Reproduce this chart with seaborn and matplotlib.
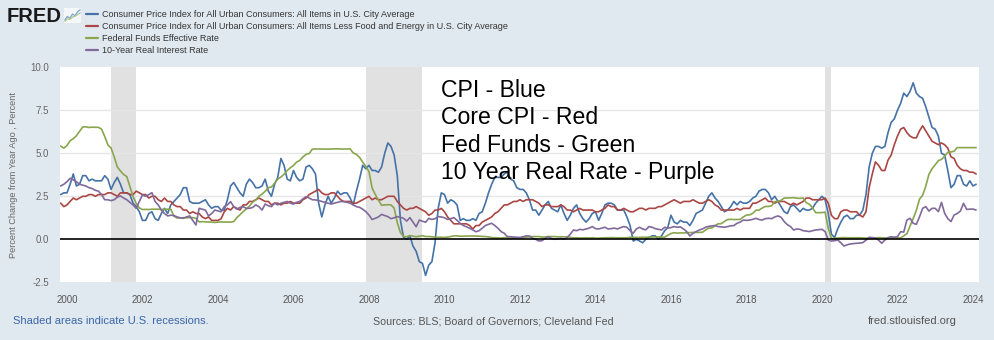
import numpy as np
import pandas as pd
import matplotlib
matplotlib.use("Agg")
import matplotlib.pyplot as plt
import seaborn as sns
from matplotlib import font_manager as fm
from matplotlib.lines import Line2D

# ---------------- data (monthly, Nov 1999 .. Feb 2024) ----------------
start_month = "1999-11-01"

cpi = [2.6, 2.7,
       2.7, 3.2, 3.8, 3.1, 3.2, 3.7, 3.7, 3.4, 3.5, 3.4, 3.4, 3.4,
       3.7, 3.5, 2.9, 3.3, 3.6, 3.2, 2.7, 2.7, 2.6, 2.1, 1.9, 1.6,
       1.1, 1.1, 1.5, 1.6, 1.2, 1.1, 1.5, 1.8, 1.5, 2.0, 2.2, 2.4,
       2.6, 3.0, 3.0, 2.2, 2.1, 2.1, 2.1, 2.2, 2.3, 2.0, 1.8, 1.9,
       1.9, 1.7, 1.7, 2.3, 3.1, 3.3, 3.0, 2.7, 2.5, 3.2, 3.5, 3.3,
       3.0, 3.0, 3.1, 3.5, 2.8, 2.5, 3.2, 3.6, 4.7, 4.3, 3.5, 3.4,
       4.0, 3.6, 3.4, 3.5, 4.2, 4.3, 4.1, 3.8, 2.1, 1.3, 2.0, 2.5,
       2.1, 2.4, 2.8, 2.6, 2.7, 2.7, 2.4, 2.0, 2.8, 3.5, 4.3, 4.1,
       4.3, 4.0, 4.0, 3.9, 4.2, 5.0, 5.6, 5.4, 4.9, 3.7, 1.1, 0.1,
       0.0, 0.2, -0.4, -0.7, -1.3, -1.4, -2.1, -1.5, -1.3, -0.2, 1.8, 2.7,
       2.6, 2.1, 2.3, 2.2, 2.0, 1.1, 1.2, 1.1, 1.1, 1.2, 1.1, 1.5,
       1.6, 2.1, 2.7, 3.2, 3.6, 3.6, 3.6, 3.8, 3.9, 3.5, 3.4, 3.0,
       2.9, 2.9, 2.7, 2.3, 1.7, 1.7, 1.4, 1.7, 2.0, 2.2, 1.8, 1.7,
       1.6, 2.0, 1.5, 1.1, 1.4, 1.8, 2.0, 1.5, 1.2, 1.0, 1.2, 1.5,
       1.6, 1.1, 1.5, 2.0, 2.1, 2.1, 2.0, 1.7, 1.7, 1.7, 1.3, 0.8,
       -0.1, 0.0, -0.1, -0.2, 0.0, 0.1, 0.2, 0.2, 0.0, 0.2, 0.5, 0.7,
       1.4, 1.0, 0.9, 1.1, 1.0, 1.0, 0.8, 1.1, 1.5, 1.6, 1.7, 2.1,
       2.5, 2.7, 2.4, 2.2, 1.9, 1.6, 1.7, 1.9, 2.2, 2.0, 2.2, 2.1,
       2.1, 2.2, 2.4, 2.5, 2.8, 2.9, 2.9, 2.7, 2.3, 2.5, 2.2, 1.9,
       1.6, 1.5, 1.9, 2.0, 1.8, 1.6, 1.8, 1.7, 1.7, 1.8, 2.1, 2.3,
       2.5, 2.3, 1.5, 0.3, 0.1, 0.6, 1.0, 1.3, 1.4, 1.2, 1.2, 1.4,
       1.4, 1.7, 2.6, 4.2, 5.0, 5.4, 5.4, 5.3, 5.4, 6.2, 6.8, 7.0,
       7.5, 7.9, 8.5, 8.3, 8.6, 9.1, 8.5, 8.3, 8.2, 7.7, 7.1, 6.5,
       6.4, 6.0, 5.0, 4.9, 4.0, 3.0, 3.2, 3.7, 3.7, 3.2, 3.1, 3.4,
       3.1, 3.2]

core_cpi = [2.1, 1.9,
            2.0, 2.2, 2.4, 2.3, 2.4, 2.5, 2.5, 2.6, 2.6, 2.5, 2.6, 2.6,
            2.6, 2.7, 2.7, 2.6, 2.5, 2.7, 2.7, 2.7, 2.6, 2.6, 2.8, 2.7,
            2.6, 2.6, 2.4, 2.5, 2.5, 2.3, 2.2, 2.4, 2.2, 2.2, 2.0, 1.9,
            1.9, 1.7, 1.7, 1.5, 1.6, 1.5, 1.5, 1.3, 1.2, 1.3, 1.1, 1.1,
            1.1, 1.2, 1.6, 1.8, 1.7, 1.9, 1.8, 1.7, 2.0, 2.0, 2.2, 2.2,
            2.3, 2.4, 2.3, 2.2, 2.2, 2.0, 2.1, 2.1, 2.0, 2.1, 2.1, 2.2,
            2.1, 2.1, 2.1, 2.3, 2.4, 2.6, 2.7, 2.8, 2.9, 2.7, 2.6, 2.6,
            2.7, 2.7, 2.5, 2.3, 2.2, 2.2, 2.2, 2.1, 2.1, 2.2, 2.3, 2.4,
            2.5, 2.3, 2.4, 2.3, 2.3, 2.4, 2.5, 2.5, 2.5, 2.2, 2.0, 1.8,
            1.7, 1.8, 1.8, 1.9, 1.8, 1.7, 1.6, 1.4, 1.5, 1.7, 1.7, 1.8,
            1.6, 1.3, 1.1, 0.9, 0.9, 0.9, 0.9, 0.9, 0.8, 0.6, 0.8, 0.8,
            1.0, 1.1, 1.2, 1.3, 1.5, 1.6, 1.8, 2.0, 2.0, 2.1, 2.2, 2.2,
            2.3, 2.2, 2.3, 2.3, 2.3, 2.2, 2.1, 1.9, 2.0, 2.0, 1.9, 1.9,
            1.9, 2.0, 1.9, 1.7, 1.7, 1.6, 1.7, 1.8, 1.7, 1.7, 1.7, 1.7,
            1.6, 1.6, 1.7, 1.8, 2.0, 1.9, 1.9, 1.7, 1.7, 1.8, 1.7, 1.6,
            1.6, 1.7, 1.8, 1.8, 1.7, 1.8, 1.8, 1.8, 1.9, 1.9, 2.0, 2.1,
            2.2, 2.3, 2.2, 2.1, 2.2, 2.2, 2.2, 2.3, 2.2, 2.1, 2.1, 2.2,
            2.3, 2.2, 2.0, 1.9, 1.7, 1.7, 1.7, 1.7, 1.7, 1.8, 1.7, 1.8,
            1.8, 1.8, 2.1, 2.1, 2.2, 2.3, 2.4, 2.2, 2.2, 2.1, 2.2, 2.2,
            2.2, 2.1, 2.0, 2.1, 2.0, 2.1, 2.2, 2.4, 2.4, 2.3, 2.3, 2.3,
            2.3, 2.4, 2.1, 1.4, 1.2, 1.2, 1.6, 1.7, 1.7, 1.6, 1.6, 1.6,
            1.4, 1.3, 1.6, 3.0, 3.8, 4.5, 4.3, 4.0, 4.0, 4.6, 4.9, 5.5,
            6.0, 6.4, 6.5, 6.2, 6.0, 5.9, 5.9, 6.3, 6.6, 6.3, 6.0, 5.7,
            5.6, 5.5, 5.6, 5.5, 5.3, 4.8, 4.7, 4.3, 4.1, 4.0, 4.0, 3.9,
            3.9, 3.8]

fed_funds = [5.42, 5.30,
             5.45, 5.73, 5.85, 6.02, 6.27, 6.53, 6.54, 6.50, 6.52, 6.51, 6.51, 6.40,
             5.98, 5.49, 5.31, 4.80, 4.21, 3.97, 3.77, 3.65, 3.07, 2.49, 2.09, 1.82,
             1.73, 1.74, 1.73, 1.75, 1.75, 1.75, 1.73, 1.74, 1.75, 1.75, 1.34, 1.24,
             1.24, 1.26, 1.25, 1.26, 1.26, 1.22, 1.01, 1.03, 1.01, 1.01, 1.00, 0.98,
             1.00, 1.01, 1.00, 1.00, 1.00, 1.03, 1.26, 1.43, 1.61, 1.76, 1.93, 2.16,
             2.28, 2.50, 2.63, 2.79, 3.00, 3.04, 3.26, 3.50, 3.62, 3.78, 4.00, 4.16,
             4.29, 4.49, 4.59, 4.79, 4.94, 4.99, 5.24, 5.25, 5.25, 5.25, 5.25, 5.24,
             5.25, 5.26, 5.26, 5.25, 5.25, 5.25, 5.26, 5.02, 4.94, 4.76, 4.49, 4.24,
             3.94, 2.98, 2.61, 2.28, 1.98, 2.00, 2.01, 2.00, 1.81, 0.97, 0.39, 0.16,
             0.15, 0.22, 0.18, 0.15, 0.18, 0.21, 0.16, 0.16, 0.15, 0.12, 0.12, 0.12,
             0.11, 0.13, 0.16, 0.20, 0.20, 0.18, 0.18, 0.19, 0.19, 0.19, 0.19, 0.18,
             0.17, 0.16, 0.14, 0.10, 0.09, 0.09, 0.07, 0.10, 0.08, 0.07, 0.08, 0.07,
             0.08, 0.10, 0.13, 0.14, 0.16, 0.16, 0.16, 0.13, 0.14, 0.16, 0.16, 0.16,
             0.14, 0.15, 0.14, 0.15, 0.11, 0.09, 0.09, 0.08, 0.08, 0.09, 0.08, 0.09,
             0.07, 0.07, 0.08, 0.09, 0.09, 0.10, 0.09, 0.09, 0.09, 0.09, 0.09, 0.12,
             0.11, 0.11, 0.11, 0.12, 0.12, 0.13, 0.13, 0.14, 0.14, 0.12, 0.12, 0.24,
             0.34, 0.38, 0.36, 0.37, 0.37, 0.38, 0.39, 0.40, 0.40, 0.40, 0.41, 0.54,
             0.65, 0.66, 0.79, 0.90, 0.91, 1.04, 1.15, 1.16, 1.15, 1.15, 1.16, 1.30,
             1.41, 1.42, 1.51, 1.69, 1.70, 1.82, 1.91, 1.91, 1.95, 2.19, 2.20, 2.27,
             2.40, 2.40, 2.41, 2.42, 2.39, 2.38, 2.40, 2.13, 2.04, 1.83, 1.55, 1.55,
             1.55, 1.58, 0.65, 0.05, 0.05, 0.08, 0.09, 0.10, 0.09, 0.09, 0.09, 0.09,
             0.09, 0.08, 0.07, 0.07, 0.06, 0.08, 0.10, 0.09, 0.08, 0.08, 0.08, 0.08,
             0.08, 0.08, 0.20, 0.33, 0.77, 1.21, 1.68, 2.33, 2.56, 3.08, 3.78, 4.10,
             4.33, 4.57, 4.65, 4.83, 5.06, 5.08, 5.12, 5.33, 5.33, 5.33, 5.33, 5.33,
             5.33, 5.33]

real_rate_10y = [3.1, 3.2,
                 3.35, 3.55, 3.45, 3.35, 3.2, 3.15, 3.1, 3.0, 2.95, 2.85, 2.8, 2.6,
                 2.3, 2.3, 2.25, 2.3, 2.45, 2.52, 2.4, 2.3, 2.15, 2.0, 1.8, 2.2,
                 2.58, 2.5, 2.6, 2.71, 2.2, 2.0, 1.7, 1.5, 1.36, 1.4, 1.38, 1.3,
                 1.25, 1.22, 1.3, 1.36, 1.1, 0.83, 1.8, 1.75, 1.7, 1.36, 1.5, 1.7,
                 1.65, 1.6, 1.9, 2.0, 2.19, 1.9, 1.75, 1.85, 1.9, 1.8, 1.8, 1.85,
                 2.0, 1.9, 1.7, 2.05, 1.95, 1.9, 2.1, 2.0, 2.1, 2.15, 2.2, 2.1,
                 2.05, 2.15, 2.2, 2.35, 2.48, 2.4, 2.3, 2.29, 2.25, 2.2, 2.15, 2.1,
                 2.05, 2.1, 2.15, 2.2, 2.19, 2.15, 2.1, 2.0, 1.9, 1.86, 1.75, 1.61,
                 1.41, 1.15, 1.22, 1.3, 1.45, 1.38, 1.32, 1.2, 1.25, 1.32, 1.28, 1.22,
                 1.06, 1.26, 1.0, 0.73, 1.12, 1.05, 0.99, 1.22, 1.15, 1.2, 1.32, 1.3,
                 1.25, 1.16, 1.2, 1.26, 1.1, 0.93, 0.8, 0.73, 0.64, 0.55, 0.44, 0.5,
                 0.64, 0.8, 0.87, 0.93, 0.8, 0.64, 0.45, 0.35, 0.15, 0.15, 0.13, 0.12,
                 0.11, 0.15, 0.2, 0.19, 0.06, 0.0, -0.1, -0.08, 0.05, 0.15, 0.05, 0.0,
                 0.02, 0.06, 0.0, 0.1, 0.3, 0.54, 0.5, 0.58, 0.55, 0.6, 0.65, 0.74,
                 0.62, 0.6, 0.65, 0.7, 0.6, 0.62, 0.65, 0.6, 0.68, 0.74, 0.7, 0.5,
                 0.35, 0.6, 0.7, 0.6, 0.55, 0.74, 0.7, 0.62, 0.58, 0.54, 0.7, 0.65,
                 0.68, 0.74, 0.7, 0.72, 0.6, 0.45, 0.19, 0.35, 0.45, 0.54, 0.6, 0.7,
                 0.75, 0.78, 0.8, 0.74, 0.72, 0.7, 0.74, 0.78, 0.8, 0.93, 1.0, 1.12,
                 1.1, 1.12, 1.16, 1.22, 1.15, 1.12, 1.2, 1.22, 1.2, 1.3, 1.36, 1.28,
                 1.03, 0.85, 0.74, 0.54, 0.6, 0.58, 0.5, 0.48, 0.45, 0.5, 0.54, 0.56,
                 0.58, 0.45, -0.04, -0.1, -0.08, -0.04, -0.2, -0.39, -0.32, -0.27, -0.25, -0.23,
                 -0.22, -0.19, -0.05, 0.12, 0.1, 0.08, -0.05, -0.23, -0.04, 0.1, 0.15, 0.12,
                 0.15, 0.44, 0.42, 1.12, 1.22, 0.93, 0.87, 1.3, 1.8, 1.9, 1.64, 1.8,
                 1.8, 1.61, 2.15, 1.51, 1.2, 1.03, 1.41, 1.5, 1.64, 2.09, 1.74, 1.75,
                 1.76, 1.7]

series_names = [
    "Consumer Price Index for All Urban Consumers: All Items in U.S. City Average",
    "Consumer Price Index for All Urban Consumers: All Items Less Food and Energy in U.S. City Average",
    "Federal Funds Effective Rate",
    "10-Year Real Interest Rate",
]
series_colors = ["#4572A7", "#AA4643", "#89A54E", "#80699B"]

recessions = [("2001-03-01", "2001-11-01"),
              ("2007-12-01", "2009-06-01"),
              ("2020-02-01", "2020-04-01")]

year_ticks = list(range(2000, 2025, 2))
y_ticks = [-2.5, 0.0, 2.5, 5.0, 7.5, 10.0]
y_label = "Percent Change from Year Ago , Percent"
annotation_lines = ["CPI - Blue", "Core CPI - Red", "Fed Funds - Green",
                    "10 Year Real Rate - Purple"]

# ---------------- helpers ----------------
def frac_year(ts):
    ts = pd.to_datetime(ts)
    return ts.year + (ts.month - 1) / 12.0

frames = []
for name, vals in zip(series_names, [cpi, core_cpi, fed_funds, real_rate_10y]):
    dates = pd.date_range(start_month, periods=len(vals), freq="MS")
    frames.append(pd.DataFrame({"t": frac_year(dates), "value": vals, "series": name}))
df = pd.concat(frames, ignore_index=True)

# ---------------- style ----------------
sns.set_theme(style="white")
available = {f.name for f in fm.fontManager.ttflist}
narrow = "Liberation Sans Narrow" if "Liberation Sans Narrow" in available else "Liberation Sans"
plt.rcParams["font.family"] = ["Liberation Sans", "DejaVu Sans"]

BG = "#E1E9F0"
fig = plt.figure(figsize=(9.94, 3.40), dpi=100, facecolor=BG)
ax = fig.add_axes([60 / 994, (340 - 282.3) / 340, 919 / 994, 215 / 340])
ax.set_facecolor("white")

for s, e in recessions:
    ax.axvspan(frac_year(s), frac_year(e), color="#E1E1E1", lw=0, zorder=0)

for yv in [2.5, 5.0, 7.5]:
    ax.axhline(yv, color="#E6E6E6", lw=1.0, zorder=0.5)

sns.lineplot(data=df, x="t", y="value", hue="series", hue_order=series_names,
             palette=dict(zip(series_names, series_colors)), linewidth=1.2,
             legend=False, ax=ax, zorder=3)

ax.axhline(0, color="black", lw=1.2, zorder=4)

ax.set_xlim(1999.815, 2024.16)
ax.set_ylim(-2.5, 10.0)
ax.set_xticks(year_ticks)
ax.set_xticklabels([str(y) for y in year_ticks], fontsize=7.0, color="#555555", family=narrow)
ax.set_yticks(y_ticks)
ax.set_yticklabels([f"{v:.1f}" for v in y_ticks], fontsize=7.0, color="#666666")
ax.tick_params(axis="x", direction="out", length=7, width=1, color="#CCD6EB", pad=2)
ax.tick_params(axis="y", length=0, pad=8)
ax.set_xlabel("")
ax.set_ylabel(y_label, fontsize=6.6, color="#666666")
ax.yaxis.set_label_coords(-0.0455, 0.5)
for sp in ax.spines.values():
    sp.set_visible(False)
ax.grid(False)

# annotation text
for i, line in enumerate(annotation_lines):
    fig.text(441 / 994, 1 - (91 + 27 * i) / 340, line, fontsize=16.6, color="black",
             va="center", ha="left")

# FRED logo and legend
fig.text(7 / 994, 1 - 16 / 340, "FRED", fontsize=14.5, fontweight="bold",
         color="#1a1a1a", va="center", ha="left")
icon = fig.add_axes([64 / 994, 1 - 23 / 340, 17 / 994, 15 / 340])
icon.set_facecolor("#F4F6F8")
icon_x = [0, 1, 2, 3, 4, 5, 6]
icon.plot(icon_x, [1, 2.2, 1.6, 3.0, 2.4, 3.8, 4.4], color="#7FA5D0", lw=0.9)
icon.plot(icon_x, [0.6, 1.4, 1.2, 2.0, 2.3, 2.8, 3.4], color="#A9C98A", lw=0.9)
icon.set_xlim(-0.3, 6.3)
icon.set_ylim(0, 5)
icon.set_xticks([])
icon.set_yticks([])
for sp in icon.spines.values():
    sp.set_visible(False)

handles = [Line2D([], [], color=c, lw=1.6) for c in series_colors]
fig.legend(handles, series_names, loc="upper left",
           bbox_to_anchor=(86 / 994, 1 - 10 / 340), frameon=False,
           fontsize=6.5, handlelength=1.35, handletextpad=0.45,
           labelspacing=0.32, borderpad=0, borderaxespad=0,
           labelcolor="#333333")

# footer
fig.text(13 / 994, 1 - 321 / 340, "Shaded areas indicate U.S. recessions.",
         fontsize=8, color="#3A66A8", va="center", ha="left", family=narrow)
fig.text(493 / 994, 1 - 321 / 340, "Sources: BLS; Board of Governors; Cleveland Fed",
         fontsize=7.7, color="#555555", va="center", ha="center", family=narrow)
fig.text(957 / 994, 1 - 321 / 340, "fred.stlouisfed.org",
         fontsize=8, color="#555555", va="center", ha="right", family=narrow)

fig.savefig("out.png", dpi=100, facecolor=BG)
